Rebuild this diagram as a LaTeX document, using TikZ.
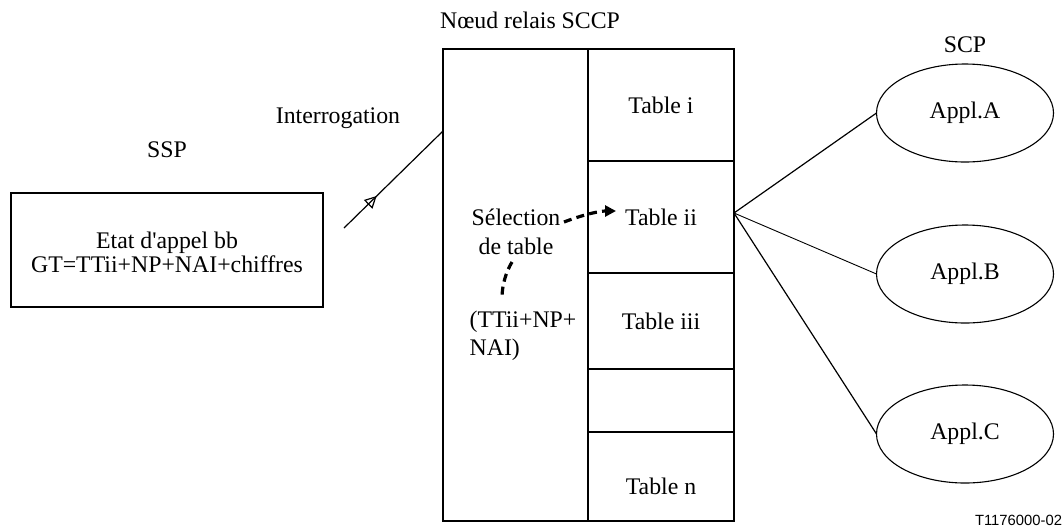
\documentclass[tikz,border=0pt]{standalone}
\usepackage{fontspec}
\setmainfont{Liberation Serif}[Ligatures=TeXOff]
\newfontfamily\arialf{Liberation Sans}
\usetikzlibrary{arrows.meta,decorations.markings,shapes.geometric}
\begin{document}
\begin{tikzpicture}[x=0.5pt,y=-0.5pt,
  every node/.style={font=\fontsize{11.9}{14}\selectfont, inner sep=0pt, outer sep=0pt},
  box/.style={draw, line width=0.65pt, rectangle, minimum width=73pt},
  appl/.style={draw, line width=0.55pt, ellipse, minimum width=88.5pt, minimum height=49pt},
  lnk/.style={line width=0.6pt},
  sel/.style={line width=1.6pt, dash pattern=on 4pt off 2.6pt},
]
\useasboundingbox (0,0) rectangle (1064,531);
% SSP
\node[box, minimum width=156pt, minimum height=57pt] (ssp) at (167,250) {};
\node[align=center, font=\fontsize{11.9}{12}\selectfont] (ssptxt) at (167,252) {Etat d'appel bb\\GT=TTii+NP+NAI+chiffres};
\node (ssplbl) at (167,150) {SSP};
% SCCP relay
\node[box, minimum width=72.5pt, minimum height=236pt] (left) at (515.5,285) {};
\node[box, minimum height=56pt] (ci) at (661,105) {Table i};
\node[box, minimum height=56pt] (cii) at (661,217) {Table ii};
\node[box, minimum height=48pt] (ciii) at (661,321) {Table iii};
\node[box, minimum height=31.5pt] (ce) at (661,400.5) {};
\node[box, minimum height=44.5pt] (cn) at (661,476.5) {};
\node (tn) at (661,486) {Table n};
\node (sccplbl) at (530,20) {Nœud relais SCCP};
\node[align=center, font=\fontsize{11.9}{14.5}\selectfont] (selt) at (516,232) {Sélection\\de table};
\node[align=left, font=\fontsize{11.9}{14}\selectfont] (keyt) at (523,336) {(TTii+NP+\\NAI)};
% Interrogation
\coordinate (qs) at (344,228);
\coordinate (qe) at (443,131);
\draw[lnk, postaction={decorate}, decoration={markings, mark=at position 0.33 with {\arrow{Triangle[open, length=6pt, width=6pt]}}}] (qs) -- (qe);
\node (qlbl) at (338,118) {Interrogation};
% selection dashed arrows
\coordinate (d1s) at (564,222);
\coordinate (d1e) at (616,211);
\draw[sel, -{Triangle[length=5.5pt, width=5.5pt]}] (d1s) .. controls (585,214) and (600,211) .. (d1e);
\coordinate (d2s) at (512,262);
\coordinate (d2e) at (502,298);
\draw[sel] (d2s) .. controls (506,272) and (502,285) .. (d2e);
% SCP
\node[appl] (a) at (965,113) {Appl.A};
\node[appl] (b) at (965,274) {Appl.B};
\node[appl] (c) at (965,434) {Appl.C};
\node (scplbl) at (965,45) {SCP};
\coordinate (o) at (734,213);
\draw[lnk] (o) -- (a.west);
\draw[line width=0.45pt] (o) -- (b.west);
\draw[lnk] (o) -- (c.west);
% reference
\node[font=\arialf\fontsize{7.4}{9}\selectfont, anchor=east] (ref) at (1062,520) {T1176000-02};
\end{tikzpicture}
\end{document}
